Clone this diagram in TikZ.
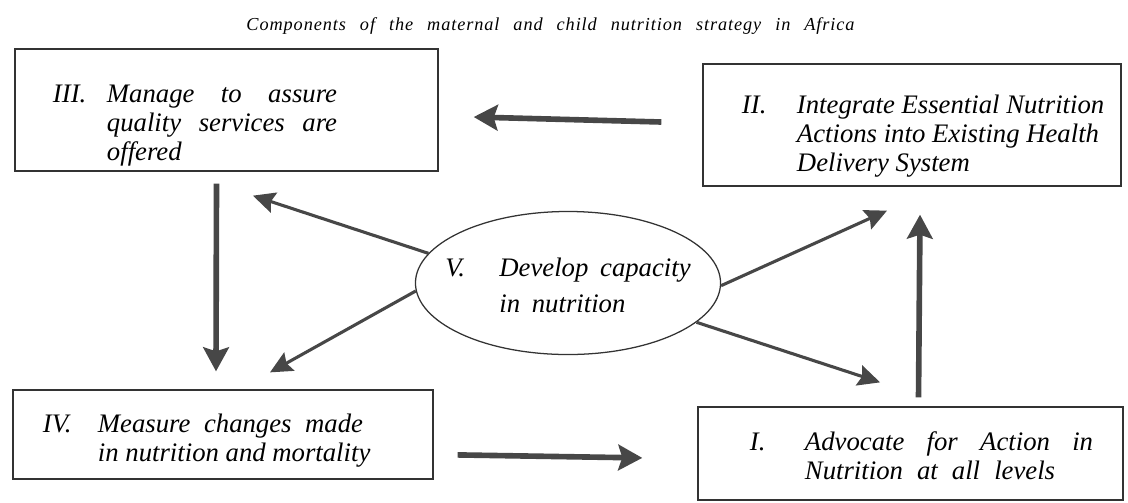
\documentclass[tikz,border=0pt]{standalone}
\usepackage{fontspec}
\setmainfont{Liberation Serif}
\usetikzlibrary{arrows.meta, shapes.geometric}
\newcommand{\boxtext}[5]{\spaceskip=0pt\xspaceskip=0pt\raisebox{#1}[0pt][0pt]{\hspace*{#2}\begin{tabular}[c]{@{}p{#3}@{}l@{}}#4 & #5\end{tabular}}}

\begin{document}
\begin{tikzpicture}[x=0.025cm, y=-0.025cm,
  box/.style={draw=black!80, line width=0.9pt, rectangle, inner sep=0pt, align=left, font={\fontsize{19}{20.5}\selectfont\itshape}},
  bigarrow/.style={draw=black!72, line width=4pt, -{Stealth[length=0.6cm, width=0.64cm, inset=0.1cm]}},
  thinarrow/.style={draw=black!72, line width=2.2pt, -{Stealth[length=0.55cm, width=0.52cm, inset=0.08cm]}}]
\useasboundingbox (0,0) rectangle (1128,502);
\node[anchor=base, font={\fontsize{13}{15}\selectfont\itshape\addfontfeature{LetterSpace=5}}] (title) at (550.5,30) {\makebox[15.2cm][s]{Components of the maternal and child nutrition strategy in Africa}};
\node[box, minimum width=10.575cm, minimum height=3.05cm, text width=10.575cm] (III) at (226.5,110) {\boxtext{-0.545cm}{0.95cm}{1.35cm}{III.}{\makebox[5.75cm][s]{Manage to assure}\\ & \makebox[5.75cm][s]{quality services are}\\ & offered}};
\node[box, minimum width=10.45cm, minimum height=3.05cm, text width=10.45cm] (II) at (912,125) {\boxtext{-0.445cm}{0.975cm}{1.375cm}{II.}{Integrate Essential Nutrition\\ & Actions into Existing Health\\ & Delivery System}};
\node[box, minimum width=10.5cm, minimum height=2.225cm, text width=10.5cm] (IV) at (223,434.5) {\boxtext{-0.32cm}{0.75cm}{1.375cm}{IV.}{\makebox[6.625cm][s]{Measure changes made}\\ & in nutrition and mortality}};
\node[box, minimum width=10.625cm, minimum height=2.325cm, text width=10.625cm] (I) at (910.5,453.5) {\boxtext{-0.3cm}{1.3cm}{1.375cm}{I.}{\makebox[7.2cm][s]{Advocate for Action in}\\ & \makebox[6.25cm][s]{Nutrition at all levels}}};
\node[box, ellipse, minimum width=7.625cm, minimum height=3.575cm, font={\fontsize{19}{25.5}\selectfont\itshape}] (V) at (568,283) {\makebox[0pt]{\boxtext{-0.26cm}{0cm}{1.35cm}{V.}{\makebox[4.78cm][s]{Develop capacity}\\ & \makebox[3.15cm][s]{in nutrition}}}};
\draw[bigarrow] ([xshift=-1.025cm, yshift=0.075cm]II.west) -- ([xshift=0.875cm, yshift=-0.175cm]III.east);
\draw[bigarrow] ([xshift=-0.25cm, yshift=-0.3cm]III.south) -- ([xshift=-0.175cm, yshift=0.45cm]IV.north);
\draw[bigarrow] ([xshift=0.6cm, yshift=-0.51cm]IV.east) -- ([xshift=-1.375cm, yshift=-0.11cm]I.west);
\draw[bigarrow] ([xshift=0.2cm, yshift=0.225cm]I.north) -- ([xshift=0.2cm, yshift=-0.7cm]II.south);
\draw[thinarrow] (V.168) -- ([xshift=0.66cm, yshift=-0.6cm]III.south);
\draw[thinarrow] (V.183) -- ([xshift=1.175cm, yshift=0.425cm]IV.north);
\draw[thinarrow] (V.-1) -- ([xshift=-0.625cm, yshift=-0.6cm]II.south);
\draw[thinarrow] (V.-17) -- ([xshift=-0.76cm, yshift=0.6cm]I.north);
\end{tikzpicture}
\end{document}
